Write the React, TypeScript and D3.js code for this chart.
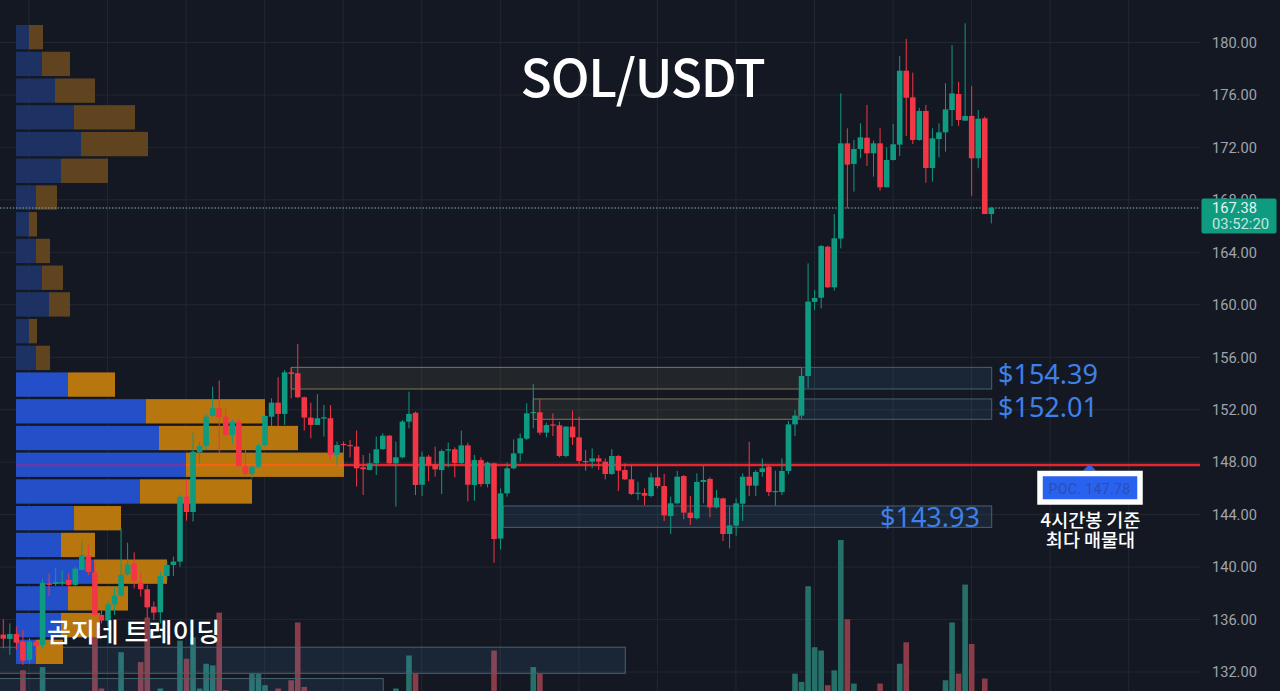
import * as d3 from 'd3';

const WIDTH = 1280;
const HEIGHT = 691;
const PLOT_RIGHT = 1200;

const BG = '#141823';
const GRID = '#23272f';
const UP = '#0f9a82';
const DOWN = '#f23645';
const UP_VOL = '#26706a';
const DOWN_VOL = '#8a3d48';
const LABEL = '#3f80e8';

const priceTicks = [180, 176, 172, 168, 164, 160, 156, 152, 148, 144, 140, 136, 132];

const opens = [
  134.85, 134.52, 134.9, 134.32, 132.92, 134.32, 134.06, 138.76, 138.71, 138.74,
  139.02, 138.64, 139.78, 140.85, 139.6, 136.35, 135.92, 137.16, 137.82, 139.45,
  140.29, 138.81, 138.31, 136.98, 136.55, 139.32, 140.16, 140.42, 145.37, 144.2,
  148.75, 149.24, 151.52, 152.11, 151.47, 150.08, 151.09, 147.71, 147.1, 147.66,
  149.31, 151.47, 152.54, 151.68, 154.85, 154.78, 152.95, 151.4, 150.84, 151.32,
  151.35, 148.55, 149.39, 149.31, 149.19, 147.61, 147.41, 147.91, 149.0, 150.02,
  147.91, 148.37, 151.09, 151.77, 146.28, 148.42, 147.83, 147.4, 148.88, 148.98,
  147.94, 149.28, 146.26, 148.16, 146.33, 147.91, 142.17, 145.62, 147.53, 148.67,
  149.79, 151.75, 151.8, 150.25, 150.88, 150.81, 148.47, 150.71, 149.89, 148.09,
  148.04, 148.29, 148.04, 147.1, 148.47, 147.4, 146.69, 145.6, 145.65, 145.42,
  146.84, 146.18, 143.89, 144.86, 146.94, 144.15, 143.72, 146.49, 146.72, 144.55,
  145.24, 142.52, 143.16, 144.83, 146.89, 146.21, 147.25, 147.66, 145.72, 145.72,
  147.33, 150.88, 151.55, 154.57, 160.22, 160.54, 164.43, 161.33, 165.05, 172.31,
  170.74, 171.88, 172.74, 171.55, 172.31, 168.96, 171.04, 172.21, 177.85, 175.82,
  172.57, 174.78, 170.43, 172.64, 173.15, 174.85, 176.07, 174.04, 174.4, 171.17, 174.22, 166.92,
];

const highs = [
  136.02, 135.71, 135.46, 135.2, 134.57, 134.44, 139.07, 139.53, 139.96, 139.78,
  139.53, 140.03, 141.99, 141.69, 140.42, 136.73, 137.37, 138.38, 142.96, 141.86,
  141.13, 139.53, 138.64, 137.37, 139.65, 140.42, 140.8, 145.5, 146.64, 150.25,
  149.57, 151.68, 153.76, 154.22, 152.11, 151.27, 151.27, 148.93, 147.79, 149.44,
  151.6, 152.87, 154.47, 155.03, 155.16, 157.01, 153.0, 152.54, 153.18, 152.36,
  152.36, 149.57, 149.57, 149.69, 150.41, 148.55, 148.68, 149.95, 150.2, 150.08,
  149.57, 151.22, 153.38, 151.85, 148.8, 148.55, 149.18, 148.98, 149.49, 149.13,
  150.4, 149.49, 148.55, 148.37, 148.04, 147.96, 146.0, 147.96, 149.74, 150.2,
  152.49, 153.96, 152.79, 151.01, 151.72, 151.09, 150.76, 151.93, 151.47, 148.93,
  149.05, 148.55, 148.29, 148.98, 148.55, 147.91, 147.78, 146.51, 146.0, 147.2,
  147.71, 147.1, 145.37, 147.33, 147.02, 145.42, 147.15, 147.71, 146.84, 145.88,
  145.29, 144.61, 145.24, 147.15, 149.56, 147.4, 148.29, 147.78, 147.35, 148.29,
  151.14, 151.98, 155.15, 163.16, 161.13, 164.56, 164.5, 166.92, 176.12, 173.46,
  172.57, 173.84, 175.24, 172.51, 173.46, 172.01, 173.79, 178.97, 180.27, 177.7,
  175.03, 175.24, 173.46, 173.84, 176.89, 179.81, 177.01, 181.46, 176.68, 174.85, 174.35, 167.48,
];

const lows = [
  133.81, 133.3, 133.68, 132.54, 132.66, 133.17, 133.81, 137.8, 138.56, 138.59,
  138.13, 138.51, 139.78, 139.4, 136.22, 135.71, 135.46, 136.35, 137.75, 139.32,
  138.38, 137.75, 136.09, 135.97, 135.71, 139.02, 139.32, 140.03, 143.54, 143.47,
  147.91, 148.93, 151.47, 148.68, 149.95, 149.44, 147.66, 146.9, 146.77, 147.53,
  149.19, 150.76, 150.76, 150.84, 152.87, 152.87, 150.41, 149.82, 150.84, 149.95,
  148.17, 147.79, 148.17, 148.37, 146.14, 145.5, 147.36, 147.02, 148.93, 147.79,
  144.61, 148.29, 150.58, 145.49, 145.42, 146.56, 146.89, 145.57, 147.6, 146.84,
  147.86, 145.01, 145.06, 146.13, 146.08, 140.33, 141.35, 145.37, 147.45, 148.04,
  149.69, 150.58, 150.07, 149.89, 149.99, 148.37, 148.37, 149.31, 147.86, 147.35,
  147.53, 147.4, 146.69, 147.02, 145.8, 146.64, 145.49, 145.11, 144.73, 145.32,
  146.0, 143.51, 142.52, 144.78, 143.64, 143.21, 143.64, 144.86, 143.79, 144.48,
  141.99, 141.43, 142.39, 143.51, 145.42, 145.42, 146.89, 145.42, 144.68, 145.49,
  147.07, 149.99, 151.27, 153.66, 159.6, 159.73, 161.3, 161.08, 164.3, 167.35,
  168.63, 171.17, 170.58, 169.77, 168.7, 168.96, 171.0, 171.35, 172.87, 172.26,
  172.51, 169.31, 169.39, 171.24, 171.68, 173.63, 173.63, 174.04, 168.32, 170.41, 166.92, 166.21,
];

const closes = [
  134.54, 134.9, 134.24, 132.87, 134.32, 133.98, 138.81, 138.64, 138.86, 138.86,
  138.64, 139.88, 140.92, 139.63, 136.35, 135.92, 137.16, 137.82, 139.4, 140.19,
  138.97, 138.31, 136.93, 136.53, 139.32, 140.16, 140.42, 145.37, 144.2, 148.8,
  149.24, 151.47, 152.11, 151.42, 150.08, 151.09, 147.71, 147.1, 147.66, 149.26,
  151.52, 152.54, 151.68, 154.85, 154.73, 152.95, 151.4, 150.84, 151.35, 151.42,
  148.55, 149.31, 149.31, 149.24, 147.53, 147.46, 147.91, 148.98, 150.02, 147.91,
  148.37, 151.09, 151.68, 146.26, 148.42, 147.78, 147.45, 148.85, 148.98, 147.94,
  149.28, 146.28, 148.16, 146.33, 147.96, 142.14, 145.62, 147.53, 148.67, 149.82,
  151.72, 151.82, 150.25, 150.83, 150.81, 148.47, 150.71, 149.89, 148.09, 148.04,
  148.29, 148.04, 147.1, 148.47, 147.35, 146.69, 145.57, 145.67, 145.44, 146.84,
  146.18, 143.94, 144.86, 146.89, 144.15, 143.74, 146.49, 146.64, 144.55, 145.29,
  142.52, 143.18, 144.86, 146.89, 146.21, 147.25, 147.53, 145.72, 145.8, 147.33,
  150.88, 151.55, 154.57, 160.24, 160.52, 164.48, 161.33, 165.07, 172.31, 170.69,
  171.88, 172.77, 171.55, 172.31, 168.96, 171.04, 172.24, 177.85, 175.79, 172.57,
  174.78, 170.43, 172.69, 173.15, 174.9, 176.12, 174.09, 174.4, 171.17, 174.19, 166.92, 167.38,
];

// only the bars tall enough to show above the bottom edge
const volumeIndex = [
  3, 6, 14, 15, 18, 21, 22, 24, 27, 28, 29, 30, 31, 32, 33, 34, 38, 39, 40, 42, 44, 45, 46,
  60, 62, 63, 75, 81, 82, 121, 122, 123, 124, 125, 126, 127, 128, 129, 130, 134, 137, 138,
  144, 145, 146, 147, 148, 150,
];
const volumes = [
  21, 23, 44, 10, 32, 26, 53, 10, 39, 28, 41, 10, 25, 24, 56, 9, 19, 19, 12, 10, 15, 50, 11,
  10, 30, 19, 33, 23, 19, 19, 14, 72, 35, 33, 12, 21, 100, 52, 13, 13, 25, 38,
  15, 50, 19, 73, 37, 16,
];

// volume profile, top row first
const profileBuy = [
  13, 26, 39, 58, 65, 45, 20, 13, 20, 26, 33, 13, 20,
  52, 130, 143, 170, 124, 58, 45, 78, 52, 45, 20,
];
const profileSell = [
  14, 28, 40, 61, 67, 47, 21, 8, 14, 21, 21, 8, 14,
  47, 119, 139, 158, 112, 47, 34, 73, 60, 39, 27,
];
const DIM_ROWS = 13;

const POC = 147.78;
const LAST = 167.38;

const yellowZones = [
  { from: 44, to: 122, top: 155.23, bottom: 153.58 },
  { from: 81, to: 121.6, top: 152.82, bottom: 151.27 },
];
const blueZones = [
  { from: 122, to: 151, top: 155.23, bottom: 153.58 },
  { from: 121.6, to: 151, top: 152.82, bottom: 151.27 },
  { from: 76.4, to: 151, top: 144.66, bottom: 143.03 },
  { from: -3, to: 95, top: 133.89, bottom: 131.9 },
  { from: -3, to: 58, top: 131.5, bottom: 130.1 },
];

const x = d3.scaleLinear().domain([0, 151]).range([3.3, 991.3]);
const y = d3.scaleLinear().domain([180, 132]).range([42.5, 672]);
const volY = d3.scaleLinear().domain([0, 100]).range([705, 540]);
const profileX = d3.scaleLinear().domain([0, 328]).range([16, 344]);
const profileY = d3
  .scaleBand<number>()
  .domain(d3.range(profileBuy.length))
  .range([25, 664])
  .paddingInner(0.089);

const gridX = d3.range(29, PLOT_RIGHT, 78.55);
const BODY = 5.6;

export default function App() {
  const pocY = y(POC);
  const sans = '"Noto Sans", "Noto Sans CJK KR", sans-serif';
  const korean = '"Noto Sans CJK KR", sans-serif';
  const pocRow = 16;
  const pocBlueEnd = profileX(profileBuy[pocRow]);
  const pocOrangeEnd = profileX(profileBuy[pocRow] + profileSell[pocRow]);

  return (
    <div style={{ position: 'fixed', left: 0, top: 0, width: WIDTH, height: HEIGHT, overflow: 'hidden' }}>
      <svg width={WIDTH} height={HEIGHT} style={{ display: 'block' }}>
        <rect width={WIDTH} height={HEIGHT} fill={BG} />

        {/* grid */}
        {priceTicks.map((t) => (
          <line key={t} x1={0} x2={PLOT_RIGHT} y1={y(t)} y2={y(t)} stroke={GRID} />
        ))}
        {gridX.map((g) => (
          <line key={g} x1={g} x2={g} y1={0} y2={HEIGHT} stroke={GRID} />
        ))}

        {/* volume */}
        {volumes.map((v, i) => {
          const idx = volumeIndex[i];
          return (
            <rect
              key={idx}
              x={x(idx) - BODY / 2}
              y={volY(v)}
              width={BODY}
              height={volY(0) - volY(v)}
              fill={closes[idx] >= opens[idx] ? UP_VOL : DOWN_VOL}
            />
          );
        })}

        {/* zones */}
        {yellowZones.map((z, i) => (
          <rect
            key={i}
            x={x(z.from)}
            y={y(z.top)}
            width={x(z.to) - x(z.from)}
            height={y(z.bottom) - y(z.top)}
            fill="#e8d87a"
            fillOpacity={0.07}
            stroke="#7d7858"
          />
        ))}
        {blueZones.map((z, i) => (
          <rect
            key={i}
            x={x(z.from)}
            y={y(z.top)}
            width={x(z.to) - x(z.from) + 0.4}
            height={y(z.bottom) - y(z.top)}
            fill="#5aa0e0"
            fillOpacity={0.1}
            stroke="#48626f"
          />
        ))}

        {/* profile */}
        {profileBuy.map((b, i) => {
          const dim = i < DIM_ROWS;
          return (
            <g key={i}>
              <rect
                x={profileX(0)}
                y={profileY(i)}
                width={profileX(b) - profileX(0)}
                height={profileY.bandwidth()}
                fill={dim ? '#1e3568' : '#2350c8'}
                fillOpacity={dim ? 0.92 : 1}
              />
              <rect
                x={profileX(b)}
                y={profileY(i)}
                width={profileX(b + profileSell[i]) - profileX(b)}
                height={profileY.bandwidth()}
                fill={dim ? '#67481f' : '#b8760e'}
                fillOpacity={dim ? 0.92 : 1}
              />
            </g>
          );
        })}

        {/* POC line */}
        <line x1={16} x2={pocBlueEnd} y1={pocY} y2={pocY} stroke="#6b3aa8" strokeWidth={2.4} />
        <line x1={pocBlueEnd} x2={pocOrangeEnd} y1={pocY} y2={pocY} stroke="#f0650f" strokeWidth={2.4} />
        <line x1={pocOrangeEnd} x2={PLOT_RIGHT} y1={pocY} y2={pocY} stroke="#e5262e" strokeWidth={2.4} />

        {/* last price */}
        <line
          x1={0}
          x2={PLOT_RIGHT}
          y1={y(LAST)}
          y2={y(LAST)}
          stroke="#86b0ac"
          strokeDasharray="1.5 1.7"
        />

        {/* candles */}
        {opens.map((o, i) => {
          const c = closes[i];
          const color = c >= o ? UP : DOWN;
          const top = y(Math.max(o, c));
          const h = Math.max(1.2, y(Math.min(o, c)) - top);
          return (
            <g key={i}>
              <line x1={x(i)} x2={x(i)} y1={y(highs[i])} y2={y(lows[i])} stroke={color} strokeWidth={1} />
              <rect x={x(i) - BODY / 2} y={top} width={BODY} height={h} fill={color} />
            </g>
          );
        })}

        {/* axis */}
        {priceTicks.map((t) => (
          <text
            key={t}
            x={1212}
            y={y(t)}
            dy="0.36em"
            fontFamily="Roboto, sans-serif"
            fontSize={14.6}
            fill="#a0a4ac"
          >
            {d3.format('.2f')(t)}
          </text>
        ))}

        {/* last price badge */}
        <rect x={1201.5} y={198.5} width={75} height={35} rx={2} fill="#0e9b80" />
        <text x={1212} y={213} fontFamily="Roboto, sans-serif" fontSize={14.6} fill="#e6f5f1">
          {d3.format('.2f')(LAST)}
        </text>
        <text x={1212} y={229} fontFamily="Roboto, sans-serif" fontSize={14.8} fill="#c3e6df">
          03:52:20
        </text>

        {/* title and notes */}
        <text
          x={642.5}
          y={96.5}
          textAnchor="middle"
          fontFamily={korean}
          fontWeight={500}
          fontSize={51.5}
          letterSpacing={-1.2}
          fill="#ffffff"
        >
          SOL/USDT
        </text>
        <text x={998} y={384} fontFamily={sans} fontSize={27} fill={LABEL}>
          $154.39
        </text>
        <text x={998} y={417} fontFamily={sans} fontSize={27} fill={LABEL}>
          $152.01
        </text>
        <text x={880} y={527} fontFamily={sans} fontSize={27} fill={LABEL}>
          $143.93
        </text>
        <text x={47} y={642} fontFamily={korean} fontWeight={500} fontSize={26} fill="#ffffff">
          곰지네 트레이딩
        </text>

        {/* POC tag */}
        <path d="M1089.5 464 L1096 470.5 L1083 470.5 Z" fill="#2a62f0" />
        <rect x={1040} y={473.5} width={100} height={28.5} fill="#2a62f0" stroke="#ffffff" strokeWidth={5.5} />
        <text
          x={1089.5}
          y={494}
          textAnchor="middle"
          fontFamily="Roboto, sans-serif"
          fontSize={14}
          letterSpacing={0.4}
          fill="#2a4fae"
        >
          POC. 147.78
        </text>
        <text x={1090.5} y={527} textAnchor="middle" fontFamily={korean} fontWeight={500} fontSize={18.5} fill="#ffffff">
          4시간봉 기준
        </text>
        <text x={1090.5} y={547} textAnchor="middle" fontFamily={korean} fontWeight={500} fontSize={18.5} fill="#ffffff">
          최다 매물대
        </text>
      </svg>
    </div>
  );
}
